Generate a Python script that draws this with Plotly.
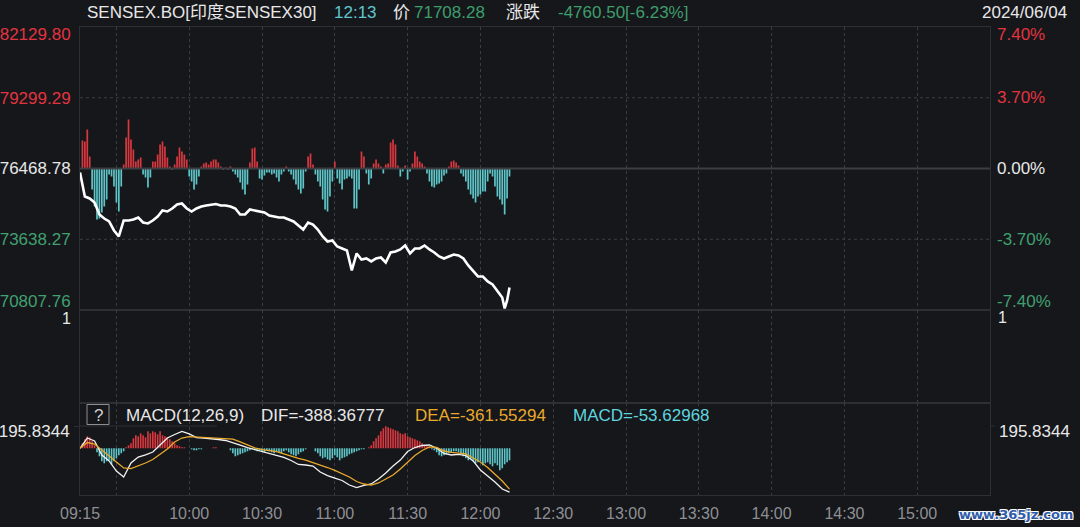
import pandas as pd
import plotly.graph_objects as go

# ---------------- data ----------------
SESSION_DATE = "2024-06-04"
OPEN_TIME = "09:15"
CLOSE_TIME = "15:30"
PREV_CLOSE = 76468.78

price_minutes = list(range(0, 176, 2)) + [175, 176, 177]
price_values = [
    76309, 75349, 75269, 75109, 74629, 74469, 74349, 73989, 73749, 74389,
    74389, 74429, 74509, 74309, 74269, 74389, 74549, 74789, 74749, 74869,
    75029, 75069, 74869, 74749, 74869, 74949, 74989, 75029, 75049, 74989,
    74989, 74949, 74869, 74629, 74629, 74829, 74789, 74749, 74709, 74589,
    74549, 74509, 74509, 74429, 74349, 74189, 74029, 74309, 74229, 74029,
    73749, 73549, 73589, 73349, 73269, 73189, 72389, 73069, 72829, 72869,
    72749, 72869, 72909, 72709, 73109, 73149, 73229, 73389, 73069, 73269,
    73269, 73389, 73229, 73109, 72949, 72869, 72949, 73029, 72989, 72869,
    72589, 72349, 72149, 72149, 71949, 71829, 71589, 71309, 70869, 71189,
    71708.28,
]

# per-minute change bars in the price panel (own scale, drawn around the previous close)
bar_values = [
    0, 28, 27, 39, 12, -21, -38, -51, -50, -44,
    -38, -31, -6, -8, -18, -34, -43, -18, 4, 31,
    49, 29, 19, 7, 9, 11, -6, -9, -19, -9,
    7, 7, 14, 24, 27, 22, 11, 2, -1, 4,
    12, 21, 17, 14, 9, -8, -13, -21, -16, -8,
    2, 5, 6, 4, 7, 9, 9, 6, 2, -1,
    1, -1, 2, -3, -6, -9, -14, -21, -26, -16,
    6, 20, 21, 7, -10, -11, -7, -4, -4, -6,
    -5, -9, -13, -6, -3, 2, -3, -6, -11, -16,
    -21, -25, -20, -3, 12, 15, 4, -6, -13, -18,
    -31, -41, -43, -28, -13, 7, -10, -15, -21, -11,
    -10, -8, -10, -40, -40, -21, 17, 12, -5, -16,
    -10, 5, 9, 5, 2, -5, 4, 5, 26, 29,
    24, 3, -8, -3, 3, -11, -3, 5, 17, 12,
    7, 5, 2, -5, -13, -18, -19, -16, -15, -13,
    -7, -5, 2, 7, 8, 6, 3, -5, -8, -13,
    -21, -26, -30, -34, -28, -26, -23, -23, -13, -5,
    -8, -18, -28, -31, -36, -46, -30, -8,
]

macd_minutes = list(range(0, 178, 3))
dif_values = [
    0, 91, 65, -59, -112, -201, -254, -130, -77, -59,
    -33, 29, 91, 122, 149, 127, 94, 91, 87, 78,
    69, 51, 29, 7, -11, -28, -46, -59, -81, -108,
    -143, -148, -157, -210, -241, -263, -285, -325, -347, -329,
    -316, -272, -219, -157, -104, -28, 7, 25, 29, 0,
    -46, -59, -53, -64, -112, -192, -245, -298, -360, -388.37,
]
dea_values = [
    0, 51, 38, -11, -68, -121, -174, -179, -157, -130,
    -99, -50, -6, 56, 91, 103, 100, 94, 91, 91,
    89, 82, 56, 29, 3, -11, -21, -30, -50, -73,
    -90, -104, -126, -143, -170, -196, -227, -254, -294, -316,
    -325, -307, -272, -236, -183, -126, -64, -19, 12, 7,
    -24, -37, -42, -50, -86, -121, -170, -227, -290, -361.55,
]
# MACD histogram (own scale)
hist_values = [
    0, 5, 9, 12, 11, 7, 3, -4, -8, -13,
    -15, -13, -12, -16, -13, -10, -7, -5, -3, 1,
    3, 5, 10, 13, 12, 15, 13, 11, 17, 15,
    17, 16, 14, 17, 13, 12, 11, 9, 7, 5,
    3, 2, 1, 1, 0, 0, -1, -2, -2, -1,
    -1, 0, 0, 0, 0, 1, 1, 0, 0, 0,
    0, 0, -2, -5, -8, -7, -6, -5, -4, -3,
    -2, -1, -2, -3, -2, -3, -4, -2, -3, -4,
    -5, -3, -4, -5, -3, -2, -4, -6, -7, -8,
    -6, -4, -3, -1, 0, 0, 0, -3, -5, -8,
    -10, -9, -11, -12, -10, -7, -9, -12, -10, -9,
    -8, -6, -5, -4, -3, -2, -1, -1, 0, 1,
    3, 7, 10, 13, 17, 20, 22, 21, 20, 19,
    18, 17, 15, 14, 15, 12, 11, 10, 9, 8,
    7, 5, 3, 2, 1, -1, -2, -4, -7, -8,
    -7, -6, -5, -4, -3, -3, -4, -5, -8, -10,
    -12, -11, -13, -15, -14, -13, -17, -15, -14, -16,
    -18, -15, -17, -22, -20, -16, -14, -12,
]

price_tick_values = [82129.80, 79299.29, 76468.78, 73638.27, 70807.76]
price_tick_labels = ["82129.80", "79299.29", "76468.78", "73638.27", "70807.76"]
pct_tick_labels = ["7.40%", "3.70%", "0.00%", "-3.70%", "-7.40%"]
time_tick_values = ["09:15", "09:30", "10:00", "10:30", "11:00", "11:30", "12:00",
                    "12:30", "13:00", "13:30", "14:00", "14:30", "15:00"]
time_tick_labels = ["09:15", "", "10:00", "10:30", "11:00", "11:30", "12:00",
                    "12:30", "13:00", "13:30", "14:00", "14:30", "15:00"]
macd_tick_value = 195.8344
vol_tick_value = 1

# ---------------- style ----------------
W, H = 1080, 527
BG = "#16171b"
FRAME = "#2e2f34"
GRID = "#3c3d42"
RED = "#e2343f"
GREEN = "#41a070"
WHITE = "#e8e8e8"
TEAL = "#5ec6c8"
BAR_RED = "#d9383f"
ORANGE = "#e9a92c"
CYAN = "#5fd5df"
FONT = "Liberation Sans, Arial, Noto Sans CJK SC, sans-serif"

PLOT_L, PLOT_R = 80, 990
MAIN_T, MAIN_B, VOL_B, MACD_B = 27, 310, 403, 495


def fx(px):
    return px / W


def fy(py):
    return 1 - py / H


t0 = pd.Timestamp(f"{SESSION_DATE} {OPEN_TIME}")
t_end = pd.Timestamp(f"{SESSION_DATE} {CLOSE_TIME}")


def to_times(mins):
    return [t0 + pd.Timedelta(minutes=int(m)) for m in mins]


price_times = to_times(price_minutes)
bar_times = to_times(range(len(bar_values)))
hist_times = to_times(range(len(hist_values)))
macd_times = to_times(macd_minutes)
tick_times = [pd.Timestamp(f"{SESSION_DATE} {t}") for t in time_tick_values]

hi, lo = price_tick_values[0], price_tick_values[-1]
main_h = MAIN_B - MAIN_T
ppp = (hi - lo) / main_h  # price units per pixel

tick_cols = [RED, RED, WHITE, GREEN, GREEN]
label_pos = [hi - 7 * ppp] + price_tick_values[1:-1] + [lo + 9 * ppp]
left_text = [f'<span style="color:{c}">{t}</span>' for t, c in zip(price_tick_labels, tick_cols)]

# MACD panel scale
macd_h = MACD_B - VOL_B
macd_zero_from_top = 45.3
macd_scale = 8.85
macd_range = [-(macd_h - macd_zero_from_top) * macd_scale, macd_zero_from_top * macd_scale]

fig = go.Figure()

# dotted horizontal grid lines of the price panel
for gv in (price_tick_values[1], price_tick_values[3]):
    fig.add_trace(go.Scatter(x=[t0, t_end], y=[gv, gv], mode="lines",
                             line=dict(color=GRID, width=1, dash="dot"), xaxis="x", yaxis="y"))
# previous-close reference line
fig.add_trace(go.Scatter(x=[t0, t_end], y=[PREV_CLOSE, PREV_CLOSE], mode="lines",
                         line=dict(color="#3d3e43", width=2), xaxis="x", yaxis="y"))
fig.add_trace(go.Bar(x=bar_times, y=[v * ppp for v in bar_values], base=PREV_CLOSE, width=42000,
                     marker=dict(color=[BAR_RED if v >= 0 else TEAL for v in bar_values], line=dict(width=0)),
                     xaxis="x", yaxis="y"))
fig.add_trace(go.Scatter(x=price_times, y=price_values, mode="lines",
                         line=dict(color="#ffffff", width=2.6), xaxis="x", yaxis="y"))
fig.add_trace(go.Scatter(x=[t0], y=[0], mode="markers", marker=dict(opacity=0), xaxis="x2", yaxis="y2"))
fig.add_trace(go.Bar(x=hist_times, y=[v * macd_scale for v in hist_values], width=40000,
                     marker=dict(color=[BAR_RED if v >= 0 else TEAL for v in hist_values], line=dict(width=0)),
                     xaxis="x3", yaxis="y3"))
fig.add_trace(go.Scatter(x=macd_times, y=dif_values, mode="lines",
                         line=dict(color="#f2f2f2", width=1.3), xaxis="x3", yaxis="y3"))
fig.add_trace(go.Scatter(x=macd_times, y=dea_values, mode="lines",
                         line=dict(color=ORANGE, width=1.3), xaxis="x3", yaxis="y3"))

xcommon = dict(type="date", range=[t0, t_end], tickvals=tick_times, showgrid=True,
               gridcolor=GRID, griddash="dot", gridwidth=1, showline=True, linecolor=FRAME,
               mirror=True, ticks="", zeroline=False, automargin=False,
               domain=[fx(PLOT_L), fx(PLOT_R)])

tickfont = dict(family=FONT, size=17, color=WHITE)

fig.update_layout(
    template="none",
    width=W, height=H, margin=dict(l=0, r=0, t=0, b=0, pad=0),
    paper_bgcolor=BG, plot_bgcolor=BG, showlegend=False, hovermode=False,
    font=dict(family=FONT, color=WHITE),
    barmode="overlay",
    xaxis=dict(**xcommon, anchor="y", showticklabels=False),
    xaxis2=dict(**xcommon, anchor="y2", showticklabels=False),
    xaxis3=dict(**xcommon, anchor="y3", showticklabels=True, ticktext=time_tick_labels,
                tickfont=dict(family=FONT, size=16, color="#8e8f94"), ticklabelstandoff=4),
    yaxis=dict(domain=[fy(MAIN_B), fy(MAIN_T)], anchor="x", range=[lo, hi],
               tickvals=label_pos, ticktext=left_text, showgrid=False, showline=True,
               mirror=True, linecolor=FRAME, zeroline=False, ticks="", automargin=False,
               tickfont=tickfont, ticklabelstandoff=5),
    yaxis2=dict(domain=[fy(VOL_B), fy(MAIN_B)], anchor="x2", range=[0, 1.094],
                tickvals=[vol_tick_value], ticktext=[str(vol_tick_value)], showgrid=False,
                showline=True, mirror=True, linecolor=FRAME, zeroline=False, ticks="",
                automargin=False, tickfont=dict(family=FONT, size=16, color=WHITE),
                ticklabelstandoff=5),
    yaxis3=dict(domain=[fy(MACD_B), fy(VOL_B)], anchor="x3", range=macd_range,
                tickvals=[macd_tick_value], ticktext=[f"{macd_tick_value}"], showgrid=False,
                showline=True, mirror=True, linecolor=FRAME, zeroline=False,
                ticks="outside", ticklen=5, tickcolor=FRAME, tickfont=tickfont,
                ticklabelshift=5, ticklabelstandoff=1, automargin=False),
)

# right-hand percentage labels of the price panel
for pos, txt, col in zip(label_pos, pct_tick_labels, tick_cols):
    fig.add_annotation(text=txt, x=fx(PLOT_R + 5), xref="paper", y=pos, yref="y",
                       xanchor="left", yanchor="middle", showarrow=False,
                       font=dict(family=FONT, size=17, color=col))
# right-hand labels of the volume and MACD panels
fig.add_annotation(text=str(vol_tick_value), x=fx(PLOT_R + 6), xref="paper", y=vol_tick_value, yref="y2",
                   xanchor="left", yanchor="middle", showarrow=False,
                   font=dict(family=FONT, size=16, color=WHITE))
fig.add_annotation(text=f"{macd_tick_value}", x=fx(PLOT_R + 7), xref="paper", y=macd_tick_value,
                   yref="y3", yshift=-5, xanchor="left", yanchor="middle", showarrow=False,
                   font=tickfont)
fig.add_shape(type="line", xref="paper", x0=fx(PLOT_R), x1=fx(PLOT_R + 5), yref="paper",
              y0=fy(426), y1=fy(426), line=dict(color=FRAME, width=1), layer="above")

# header strip of MACD panel (hides gridlines behind the legend text)
fig.add_shape(type="rect", xref="paper", yref="paper",
              x0=fx(PLOT_L + 1), x1=fx(PLOT_R - 1), y0=fy(425.5), y1=fy(403.5),
              fillcolor=BG, line=dict(width=0), layer="between")
fig.add_shape(type="line", xref="paper", yref="paper",
              x0=fx(PLOT_L), x1=fx(217), y0=fy(426), y1=fy(426),
              line=dict(color=FRAME, width=1), layer="above")
fig.add_shape(type="rect", xref="paper", yref="paper",
              x0=fx(87), x1=fx(109), y0=fy(424.5), y1=fy(404.5),
              line=dict(color="#8e8e8e", width=1), layer="above")


def ann(text, x, y, color, size=17, anchor="left"):
    fig.add_annotation(text=text, x=fx(x), y=fy(y), xref="paper", yref="paper",
                       xanchor=anchor, yanchor="middle", showarrow=False,
                       font=dict(family=FONT, size=size, color=color))


ann("SENSEX.BO[印度SENSEX30]", 85, 12, WHITE)
ann("12:13", 332, 12, "#5ec7cf")
ann("价", 391, 12, WHITE)
ann("71708.28", 412, 12, "#3d9e6b")
ann("涨跌", 504, 12, WHITE)
ann("-4760.50[-6.23%]", 556, 12, "#3d9e6b")
ann("2024/06/04", 1069, 12, WHITE, anchor="right")

ann("?", 98, 415, "#d0d0d0", anchor="center")
ann("MACD(12,26,9)", 124, 415, WHITE)
ann("DIF=-388.36777", 259, 415, WHITE)
ann("DEA=-361.55294", 413, 415, ORANGE)
ann("MACD=-53.62968", 571, 415, CYAN)

fig.add_annotation(text="<b>www.365jz.com</b>", x=fx(1075), y=fy(514), xref="paper", yref="paper",
                   xanchor="right", yanchor="middle", showarrow=False,
                   font=dict(family="DejaVu Sans, sans-serif", size=13, color="#2f5cab",
                             shadow="1px 1px 0 #ffffff, -1px -1px 0 #ffffff, 1px -1px 0 #ffffff, -1px 1px 0 #ffffff"))

fig.write_html("out.html", config={"displayModeBar": False, "staticPlot": True},
               post_script="document.body.style.margin='0';document.body.style.overflow='hidden';")
